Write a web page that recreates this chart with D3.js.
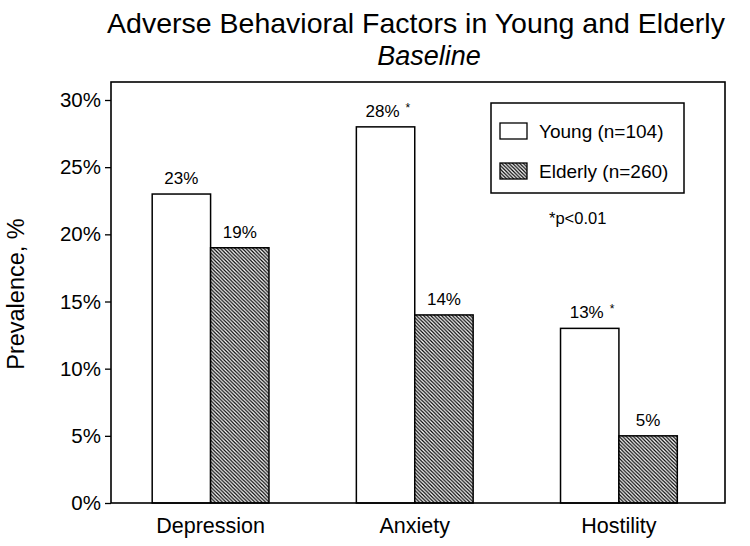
<!DOCTYPE html>
<html>
<head>
<meta charset="utf-8">
<script src="https://cdn.jsdelivr.net/npm/d3@7"></script>
<style>
  html, body { margin: 0; padding: 0; background: #fff; }
  svg { display: block; font-family: "Liberation Sans", Arial, Helvetica, sans-serif; }
</style>
</head>
<body>
<svg id="chart" width="750" height="546"></svg>
<script>
const categories = ["Depression", "Anxiety", "Hostility"];
const seriesNames = ["Young (n=104)", "Elderly (n=260)"];
const youngValues = [23, 28, 13];
const elderlyValues = [19, 14, 5];
const youngSignificant = [false, true, true];
const yTickValues = [0, 5, 10, 15, 20, 25, 30];
const noteText = "*p<0.01";

const svg = d3.select("#chart");
const frame = { left: 111, right: 725, top: 82, bottom: 503 };

// pattern
const defs = svg.append("defs");
const pat = defs.append("pattern")
  .attr("id", "hatch").attr("patternUnits", "userSpaceOnUse")
  .attr("width", 3.6).attr("height", 3.6);
pat.append("rect").attr("width", 3.6).attr("height", 3.6).attr("fill", "#fff");
pat.append("path")
  .attr("d", "M-1,-1 L4.6,4.6 M2.6,-1 L4.6,1 M-1,2.6 L1,4.6")
  .attr("stroke", "#000").attr("stroke-width", 1.25);

const y = d3.scaleLinear().domain([0, 30]).range([503, 100]);
const x0 = d3.scaleBand().domain(categories).range([108.5, 721])
  .paddingInner(0.428).paddingOuter(0.214);
const x1 = d3.scaleBand().domain(["young", "elderly"]).range([0, x0.bandwidth()]);

const data = categories.map((c, i) => ({
  cat: c,
  vals: [
    { key: "young", v: youngValues[i], sig: youngSignificant[i] },
    { key: "elderly", v: elderlyValues[i], sig: false }
  ]
}));

// Title
svg.append("text").attr("x", 416).attr("y", 33).attr("text-anchor", "middle")
  .attr("font-size", 28.5).attr("fill", "#000")
  .text("Adverse Behavioral Factors in Young and Elderly");
svg.append("text").attr("x", 429).attr("y", 65).attr("text-anchor", "middle")
  .attr("font-size", 27).attr("font-style", "italic").attr("fill", "#000")
  .text("Baseline");

// Y axis
const yAxis = d3.axisLeft(y).tickValues(yTickValues).tickSize(6).tickPadding(4)
  .tickFormat(d => d + "%");
const gy = svg.append("g").attr("transform", `translate(${frame.left},0)`).call(yAxis);
gy.select(".domain").remove();
gy.selectAll(".tick line").attr("stroke", "#000").attr("stroke-width", 1.3);
gy.selectAll(".tick text").attr("font-size", 20.5).attr("fill", "#000")
  .attr("font-family", "Liberation Sans, Arial, sans-serif");

svg.append("text")
  .attr("transform", "translate(16,294) rotate(-90)")
  .attr("text-anchor", "middle").attr("dominant-baseline", "central")
  .attr("font-size", 23.5).attr("fill", "#000")
  .text("Prevalence, %");

// Bars
const groups = svg.append("g").selectAll("g").data(data).join("g")
  .attr("transform", d => `translate(${x0(d.cat)},0)`);
groups.selectAll("rect").data(d => d.vals).join("rect")
  .attr("x", d => x1(d.key))
  .attr("y", d => y(d.v))
  .attr("width", x1.bandwidth())
  .attr("height", d => y(0) - y(d.v))
  .attr("fill", d => d.key === "young" ? "#fff" : "url(#hatch)")
  .attr("stroke", "#000").attr("stroke-width", 1.5);

// Value labels
groups.selectAll("text.val").data(d => d.vals).join("text")
  .attr("class", "val")
  .attr("x", d => x1(d.key) + x1.bandwidth() / 2 - (d.sig ? 3 : 0))
  .attr("y", d => y(d.v) - 10)
  .attr("text-anchor", "middle").attr("font-size", 17).attr("fill", "#000")
  .text(d => d.v + "%");
groups.selectAll("text.sig").data(d => d.vals.filter(v => v.sig)).join("text")
  .attr("class", "sig")
  .attr("x", d => x1(d.key) + x1.bandwidth() / 2 + 20)
  .attr("y", d => y(d.v) - 15)
  .attr("font-size", 12).attr("fill", "#000")
  .text("*");

// Frame
svg.append("rect")
  .attr("x", frame.left).attr("y", frame.top)
  .attr("width", frame.right - frame.left).attr("height", frame.bottom - frame.top)
  .attr("fill", "none").attr("stroke", "#000").attr("stroke-width", 1.6);

// Category labels
svg.append("g").selectAll("text").data(categories).join("text")
  .attr("x", d => x0(d) + x0.bandwidth() / 2)
  .attr("y", 533)
  .attr("text-anchor", "middle").attr("font-size", 21.5).attr("fill", "#000")
  .text(d => d);

// Legend
const lg = svg.append("g");
lg.append("rect").attr("x", 491).attr("y", 103).attr("width", 193).attr("height", 90)
  .attr("fill", "#fff").attr("stroke", "#000").attr("stroke-width", 1.5);
const fills = ["#fff", "url(#hatch)"];
const ly = [123, 163];
seriesNames.forEach((s, i) => {
  lg.append("rect").attr("x", 500).attr("y", ly[i]).attr("width", 27).attr("height", 16)
    .attr("fill", fills[i]).attr("stroke", "#000").attr("stroke-width", 1.3);
  lg.append("text").attr("x", 539).attr("y", ly[i] + 15)
    .attr("font-size", 19).attr("fill", "#000").text(s);
});
svg.append("text").attr("x", 549).attr("y", 224)
  .attr("font-size", 16.5).attr("fill", "#000").text(noteText);
</script>
</body>
</html>
